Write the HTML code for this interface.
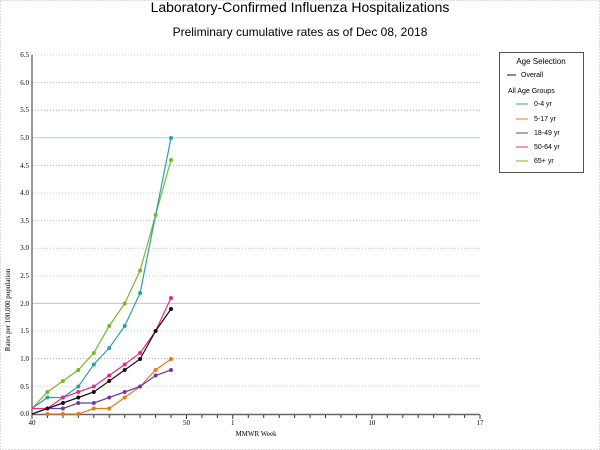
<!DOCTYPE html>
<html><head><meta charset="utf-8"><style>
body{margin:0;background:#fff;}
svg{display:block;font-family:"Liberation Serif",serif;}
</style></head><body>
<svg width="600" height="450" viewBox="0 0 600 450" xmlns="http://www.w3.org/2000/svg">
<rect x="0.5" y="0.5" width="599" height="449" fill="#fff" stroke="#bbb" stroke-dasharray="1,2"/>
<text x="300" y="12" text-anchor="middle" font-family="Liberation Sans,sans-serif" font-size="14">Laboratory-Confirmed Influenza Hospitalizations</text>
<text x="300" y="36" text-anchor="middle" font-family="Liberation Sans,sans-serif" font-size="12">Preliminary cumulative rates as of Dec 08, 2018</text>
<g stroke-dasharray="1,2" stroke-width="1">
<line x1="32" x2="480" y1="55" y2="55" stroke="#b8d8a8"/>
<line x1="32" x2="480" y1="82.6" y2="82.6" stroke="#a8b8e8"/>
<line x1="32" x2="480" y1="110.2" y2="110.2" stroke="#aaa"/>
<line x1="32" x2="480" y1="137.8" y2="137.8" stroke="#8ee0e8" stroke-dasharray="none"/>
<line x1="32" x2="480" y1="165.4" y2="165.4" stroke="#b8a8d8"/>
<line x1="32" x2="480" y1="193" y2="193" stroke="#a8d0e8"/>
<line x1="32" x2="480" y1="220.6" y2="220.6" stroke="#b8b8e0"/>
<line x1="32" x2="480" y1="248.2" y2="248.2" stroke="#c0c0c0"/>
<line x1="32" x2="480" y1="275.8" y2="275.8" stroke="#d0d8a0"/>
<line x1="32" x2="480" y1="303.4" y2="303.4" stroke="#f0a8e0" stroke-dasharray="none"/>
<line x1="32" x2="480" y1="331" y2="331" stroke="#a8e0c8"/>
<line x1="32" x2="480" y1="358.6" y2="358.6" stroke="#aaa"/>
<line x1="32" x2="480" y1="386.2" y2="386.2" stroke="#f0b8d8"/>
</g>
<line x1="32" y1="55" x2="32" y2="415" stroke="#333"/>
<line x1="32" y1="414.5" x2="480" y1="414.5" y2="414.5" stroke="#666" stroke-width="1.5"/>
<g font-size="7" text-anchor="end">
<text x="29" y="57">6.5</text><text x="29" y="85">6.0</text><text x="29" y="112">5.5</text><text x="29" y="140">5.0</text><text x="29" y="168">4.5</text><text x="29" y="195">4.0</text><text x="29" y="223">3.5</text><text x="29" y="250">3.0</text><text x="29" y="278">2.5</text><text x="29" y="306">2.0</text><text x="29" y="333">1.5</text><text x="29" y="361">1.0</text><text x="29" y="389">0.5</text><text x="29" y="416">0.0</text>
</g>
<g stroke="#333">
<path d="M32 415v4M47.4 415v3M62.9 415v3M78.3 415v3M93.8 415v3M109.2 415v3M124.7 415v3M140.1 415v3M155.6 415v3M171 415v3M186.5 415v4M201.9 415v3M217.4 415v3M232.8 415v4M248.3 415v3M263.7 415v3M279.2 415v3M294.6 415v3M310.1 415v3M325.5 415v3M341 415v3M356.4 415v3M371.9 415v4M387.3 415v3M402.8 415v3M418.2 415v3M433.7 415v3M449.1 415v3M464.6 415v3M480 415v4"/>
</g>
<g font-size="7" text-anchor="middle">
<text x="32" y="425">40</text><text x="186.5" y="425">50</text><text x="232.8" y="425">1</text><text x="371.9" y="425">10</text><text x="480" y="425">17</text>
</g>
<text x="256" y="436" font-size="7" text-anchor="middle">MMWR Week</text>
<text transform="translate(10,310) rotate(-90)" font-size="7" text-anchor="middle">Rates per 100,000 population</text>
<g fill="none" stroke-width="1.2">
<polyline stroke="#7ab62c" points="32,408.5 47.4,392 62.9,381 78.3,370 93.8,353 109.2,326 124.7,303.5 140.1,270.5 155.6,215 171,160"/>
<polyline stroke="#2aa3a0" points="32,408.5 47.4,397.5 62.9,397.5 78.3,386.5 93.8,364.5 109.2,348 124.7,326 140.1,293 155.6,215 171,138"/>
<polyline stroke="#e7298a" points="32,408.5 47.4,408.5 62.9,397.5 78.3,392 93.8,386.5 109.2,375.5 124.7,364.5 140.1,353 155.6,331 171,298"/>
<polyline stroke="#111" points="32,414 47.4,408.5 62.9,403 78.3,397.5 93.8,392 109.2,381 124.7,370 140.1,359 155.6,331 171,309"/>
<polyline stroke="#e6781e" points="47.4,414 62.9,414 78.3,414 93.8,408.5 109.2,408.5 124.7,397.5 140.1,386.5 155.6,370 171,359"/>
<polyline stroke="#6a3d9a" points="47.4,408.5 62.9,408.5 78.3,403 93.8,403 109.2,397.5 124.7,392 140.1,386.5 155.6,375.5 171,370"/>
</g>
<g>
<g fill="#7ab62c"><circle cx="47.4" cy="392" r="2"/><circle cx="62.9" cy="381" r="2"/><circle cx="78.3" cy="370" r="2"/><circle cx="93.8" cy="353" r="2"/><circle cx="109.2" cy="326" r="2"/><circle cx="124.7" cy="303.5" r="2"/><circle cx="140.1" cy="270.5" r="2"/><circle cx="155.6" cy="215" r="2"/><circle cx="171" cy="160" r="2"/></g>
<g fill="#2aa3a0"><circle cx="47.4" cy="397.5" r="2"/><circle cx="62.9" cy="397.5" r="2"/><circle cx="78.3" cy="386.5" r="2"/><circle cx="93.8" cy="364.5" r="2"/><circle cx="109.2" cy="348" r="2"/><circle cx="124.7" cy="326" r="2"/><circle cx="140.1" cy="293" r="2"/><circle cx="171" cy="138" r="2"/></g>
<g fill="#e7298a"><circle cx="62.9" cy="397.5" r="2"/><circle cx="78.3" cy="392" r="2"/><circle cx="93.8" cy="386.5" r="2"/><circle cx="109.2" cy="375.5" r="2"/><circle cx="124.7" cy="364.5" r="2"/><circle cx="140.1" cy="353" r="2"/><circle cx="171" cy="298" r="2"/></g>
<g fill="#111"><circle cx="47.4" cy="408.5" r="2"/><circle cx="62.9" cy="403" r="2"/><circle cx="78.3" cy="397.5" r="2"/><circle cx="93.8" cy="392" r="2"/><circle cx="109.2" cy="381" r="2"/><circle cx="124.7" cy="370" r="2"/><circle cx="140.1" cy="359" r="2"/><circle cx="155.6" cy="331" r="2"/><circle cx="171" cy="309" r="2"/></g>
<g fill="#e6781e"><circle cx="47.4" cy="414" r="2"/><circle cx="62.9" cy="414" r="2"/><circle cx="78.3" cy="414" r="2"/><circle cx="93.8" cy="408.5" r="2"/><circle cx="109.2" cy="408.5" r="2"/><circle cx="124.7" cy="397.5" r="2"/><circle cx="155.6" cy="370" r="2"/><circle cx="171" cy="359" r="2"/></g>
<g fill="#6a3d9a"><circle cx="62.9" cy="408.5" r="2"/><circle cx="78.3" cy="403" r="2"/><circle cx="93.8" cy="403" r="2"/><circle cx="109.2" cy="397.5" r="2"/><circle cx="124.7" cy="392" r="2"/><circle cx="140.1" cy="386.5" r="2"/><circle cx="155.6" cy="375.5" r="2"/><circle cx="171" cy="370" r="2"/></g>
</g>
<rect x="499.5" y="52.5" width="84" height="120" fill="#fff" stroke="#555"/>
<g font-family="Liberation Sans,sans-serif" font-size="7">
<text x="541" y="64" text-anchor="middle" font-size="8">Age Selection</text>
<line x1="507" x2="516" y1="75" y2="75" stroke="#111"/><text x="521" y="77">Overall</text>
<text x="508" y="93">All Age Groups</text>
<line x1="516" x2="528" y1="104" y2="104" stroke="#2aa3a0"/><text x="534" y="106">0-4 yr</text>
<line x1="516" x2="528" y1="119" y2="119" stroke="#e6781e"/><text x="534" y="121">5-17 yr</text>
<line x1="516" x2="528" y1="133" y2="133" stroke="#6a3d9a"/><text x="534" y="135">18-49 yr</text>
<line x1="516" x2="528" y1="147" y2="147" stroke="#e7298a"/><text x="534" y="149">50-64 yr</text>
<line x1="516" x2="528" y1="161" y2="161" stroke="#7ab62c"/><text x="534" y="163">65+ yr</text>
</g>
</svg>
</body></html>
